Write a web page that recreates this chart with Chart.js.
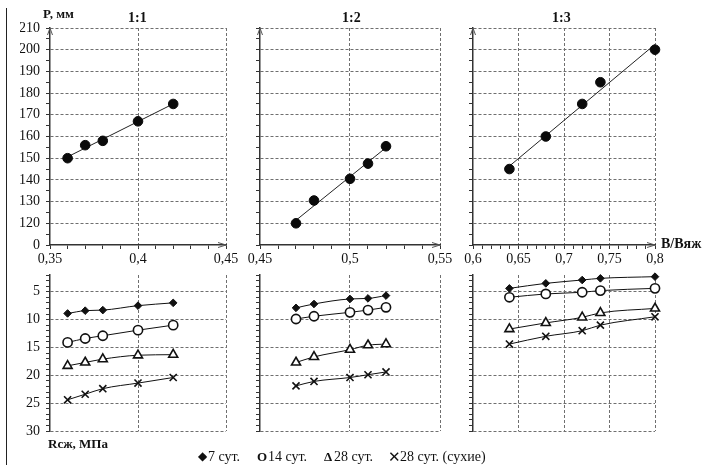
<!DOCTYPE html>
<html>
<head>
<meta charset="utf-8">
<script src="https://cdn.jsdelivr.net/npm/chart.js@4.4.1/dist/chart.umd.min.js"></script>
<style>
  body { margin: 0; background: #fff; }
  #wrap { position: relative; width: 704px; height: 465px; overflow: hidden; font-family: "Liberation Serif", serif; color: #111; }
  #wrap canvas { position: absolute; left: 0; top: 0; }
  .lbl { position: absolute; white-space: nowrap; font-weight: bold; line-height: 16px; }
  .leg { position: absolute; white-space: nowrap; font-size: 14px; line-height: 16px; top: 449px; }
  #frame { position: absolute; left: 6px; top: 8px; width: 0; height: 460px; border-left: 1.5px solid #222; }
</style>
</head>
<body>
<div id="wrap">
  <div id="frame"></div>
  <canvas id="t1" width="704" height="465"></canvas>
  <canvas id="t2" width="704" height="465"></canvas>
  <canvas id="t3" width="704" height="465"></canvas>
  <canvas id="b1" width="704" height="465"></canvas>
  <canvas id="b2" width="704" height="465"></canvas>
  <canvas id="b3" width="704" height="465"></canvas>

  <div class="lbl" style="left:43px;top:6px;font-size:13px;">P, мм</div>
  <div class="lbl" id="title1" style="left:128px;top:10px;font-size:14px;"></div>
  <div class="lbl" id="title2" style="left:342px;top:10px;font-size:14px;"></div>
  <div class="lbl" id="title3" style="left:552px;top:10px;font-size:14px;"></div>
  <div class="lbl" style="left:661px;top:236px;font-size:14px;">В/Вяж</div>
  <div class="lbl" style="left:48px;top:436px;font-size:13px;">Rсж, МПа</div>

  <span class="leg" style="left:198px;font-size:12px;top:448px;">◆</span>
  <span class="leg" id="leg0" style="left:208px;"></span>
  <span class="leg" style="left:257px;font-weight:bold;font-size:13px;">O</span>
  <span class="leg" id="leg1" style="left:268px;"></span>
  <span class="leg" style="left:324px;font-weight:bold;font-size:13px;">Δ</span>
  <span class="leg" id="leg2" style="left:334px;"></span>
  <span class="leg" style="left:388px;font-size:15px;">✕</span>
  <span class="leg" id="leg3" style="left:400px;"></span>
</div>

<script>
// составы
const ratios = ['1:1', '1:2', '1:3'];
const seriesNames = ['7 сут.', '14 сут.', '28 сут.', '28 сут. (сухие)'];

// В/Вяж
const wc11 = [0.36, 0.37, 0.38, 0.40, 0.42];
const wc12 = [0.47, 0.48, 0.50, 0.51, 0.52];
const wc13 = [0.64, 0.68, 0.72, 0.74, 0.80];

// расплыв P, мм
const p11 = [150, 156, 158, 167, 175];
const p12 = [120, 130.5, 140.5, 147.5, 155.5];
const p13 = [145, 160, 175, 185, 200];

// прочность Rсж, МПа
const r7_11 = [8.9, 8.4, 8.3, 7.5, 7.0];
const r14_11 = [14.1, 13.4, 12.9, 11.9, 11.0];
const r28_11 = [18.3, 17.7, 17.1, 16.4, 16.3];
const r28d_11 = [24.4, 23.4, 22.4, 21.4, 20.4];

const r7_12 = [7.9, 7.2, 6.3, 6.2, 5.7];
const r14_12 = [9.9, 9.4, 8.7, 8.3, 7.8];
const r28_12 = [17.7, 16.7, 15.4, 14.6, 14.4];
const r28d_12 = [21.9, 21.1, 20.4, 19.9, 19.4];

const r7_13 = [4.4, 3.5, 2.9, 2.6, 2.3];
const r14_13 = [6.0, 5.4, 5.1, 4.8, 4.4];
const r28_13 = [11.7, 10.6, 9.6, 8.8, 8.0];
const r28d_13 = [14.4, 13.0, 12.0, 11.0, 9.5];

// оси
const xRange11 = [0.35, 0.45];
const xRange12 = [0.45, 0.55];
const xRange13 = [0.6, 0.8];
const pRange = [110, 210];   // нижнее деление подписано "0"
const rRange = [2, 30];

const W = 704, H = 465;
const YW = 30, XH = 24;
const cols = [
  { left: 50, right: 226 },
  { left: 260, right: 440 },
  { left: 473, right: 655 }
];
const topRow = { top: 28, bottom: 245 };
const botRow = { top: 275, bottom: 431 };

const GRID = '#6f6f6f';
const AXIS = '#333';

Chart.defaults.font.family = '"Liberation Serif", serif';
Chart.defaults.font.size = 14;
Chart.defaults.color = '#111';

ratios.forEach((r, i) => { document.getElementById('title' + (i + 1)).textContent = r; });
seriesNames.forEach((s, i) => { document.getElementById('leg' + i).textContent = s; });

function isMult(v, step) {
  const k = v / step;
  return Math.abs(k - Math.round(k)) < 1e-6;
}
function steps(min, max, step) {
  const out = [];
  const n = Math.round((max - min) / step);
  for (let i = 0; i <= n; i++) out.push(+(min + i * step).toFixed(4));
  return out;
}
function fmt(v) {
  return String(+v.toFixed(2)).replace('.', ',');
}
function pts(xs, ys) {
  return xs.map((x, i) => ({ x: x, y: ys[i] }));
}
// линейный тренд по точкам
function trend(xs, ys) {
  const n = xs.length;
  const mx = xs.reduce((a, b) => a + b, 0) / n;
  const my = ys.reduce((a, b) => a + b, 0) / n;
  let sxy = 0, sxx = 0;
  for (let i = 0; i < n; i++) {
    sxy += (xs[i] - mx) * (ys[i] - my);
    sxx += (xs[i] - mx) * (xs[i] - mx);
  }
  const k = sxy / sxx, b = my - k * mx;
  return [{ x: xs[0], y: k * xs[0] + b }, { x: xs[n - 1], y: k * xs[n - 1] + b }];
}

// стрелки на концах осей
const axisArrows = {
  id: 'axisArrows',
  afterDraw(chart, args, opts) {
    if (!opts.on) return;
    const a = chart.chartArea, ctx = chart.ctx;
    ctx.save();
    ctx.strokeStyle = '#555';
    ctx.lineWidth = 1;
    ctx.beginPath();
    ctx.moveTo(a.left - 2.5, a.top + 7); ctx.lineTo(a.left, a.top); ctx.lineTo(a.left + 2.5, a.top + 7);
    ctx.moveTo(a.right - 8, a.bottom - 2.5); ctx.lineTo(a.right, a.bottom); ctx.lineTo(a.right - 8, a.bottom + 2.5);
    ctx.stroke();
    ctx.restore();
  }
};

function topSets(xs, ps) {
  return [
    { data: pts(xs, ps), pointRadius: 4.8, pointBackgroundColor: '#0a0a0a', pointBorderColor: '#0a0a0a', showLine: false, clip: false },
    { data: trend(xs, ps), showLine: true, borderColor: '#222', borderWidth: 1, pointRadius: 0, clip: false }
  ];
}

function botSets(xs, s7, s14, s28, s28d) {
  const line = { showLine: true, borderColor: '#111', borderWidth: 1, cubicInterpolationMode: 'monotone', clip: false, pointBorderColor: '#111' };
  return [
    Object.assign({}, line, { data: pts(xs, s7), pointStyle: 'rectRot', pointRadius: 3.8, pointBackgroundColor: '#111' }),
    Object.assign({}, line, { data: pts(xs, s14), pointStyle: 'circle', pointRadius: 4.6, pointBorderWidth: 1.6, pointBackgroundColor: '#fff' }),
    Object.assign({}, line, { data: pts(xs, s28), pointStyle: 'triangle', pointRadius: 5.2, pointBorderWidth: 1.6, pointBackgroundColor: '#fff' }),
    Object.assign({}, line, { data: pts(xs, s28d), pointStyle: 'crossRot', pointRadius: 5, pointBorderWidth: 1.6 })
  ];
}

function panel(id, col, isTop, xRange, datasets, showY) {
  const row = isTop ? topRow : botRow;
  const yr = isTop ? pRange : rRange;
  const yMinor = isTop ? 5 : 1, yMajor = isTop ? 10 : 5;
  const xMin = xRange[0], xMax = xRange[1];

  new Chart(document.getElementById(id), {
    type: 'scatter',
    data: { datasets: datasets },
    options: {
      responsive: false,
      animation: false,
      events: [],
      layout: { padding: { left: col.left - YW, right: W - col.right, top: row.top, bottom: H - row.bottom - XH } },
      plugins: { legend: { display: false }, tooltip: { enabled: false }, axisArrows: { on: isTop } },
      scales: {
        x: {
          type: 'linear', min: xMin, max: xMax,
          afterBuildTicks: ax => { ax.ticks = steps(xMin, xMax, isTop ? 0.01 : 0.05).map(v => ({ value: v })); },
          afterFit: ax => { ax.height = XH; },
          grid: {
            color: c => (c.tick && isMult(c.tick.value, 0.05) && c.tick.value > xMin + 1e-6) ? GRID : 'rgba(0,0,0,0)',
            lineWidth: 1,
            drawTicks: isTop,
            tickLength: 4,
            tickColor: AXIS
          },
          border: { display: isTop, color: AXIS, width: 1.5, dash: [3, 2] },
          ticks: {
            display: isTop,
            autoSkip: false,
            maxRotation: 0,
            padding: 2,
            callback: v => isMult(v, 0.05) ? fmt(v) : ''
          }
        },
        y: {
          type: 'linear', min: yr[0], max: yr[1], reverse: !isTop,
          afterBuildTicks: ax => { ax.ticks = steps(yr[0], yr[1], yMinor).map(v => ({ value: v })); },
          afterFit: ax => { ax.width = YW; },
          grid: {
            color: c => {
              const v = c.tick ? c.tick.value : 0;
              if (!isMult(v, yMajor)) return 'rgba(0,0,0,0)';
              if (isTop && v === yr[0]) return 'rgba(0,0,0,0)';
              return GRID;
            },
            lineWidth: 1,
            tickLength: 4,
            tickColor: AXIS
          },
          border: { display: true, color: AXIS, width: 1.5, dash: [3, 2] },
          ticks: {
            autoSkip: false,
            padding: 6,
            callback: v => {
              if (!showY || !isMult(v, yMajor)) return '';
              if (isTop && v === yr[0]) return '0';
              return String(v);
            }
          }
        }
      }
    },
    plugins: [axisArrows]
  });
}

panel('t1', cols[0], true, xRange11, topSets(wc11, p11), true);
panel('t2', cols[1], true, xRange12, topSets(wc12, p12), false);
panel('t3', cols[2], true, xRange13, topSets(wc13, p13), false);
panel('b1', cols[0], false, xRange11, botSets(wc11, r7_11, r14_11, r28_11, r28d_11), true);
panel('b2', cols[1], false, xRange12, botSets(wc12, r7_12, r14_12, r28_12, r28d_12), false);
panel('b3', cols[2], false, xRange13, botSets(wc13, r7_13, r14_13, r28_13, r28d_13), false);
</script>
</body>
</html>
